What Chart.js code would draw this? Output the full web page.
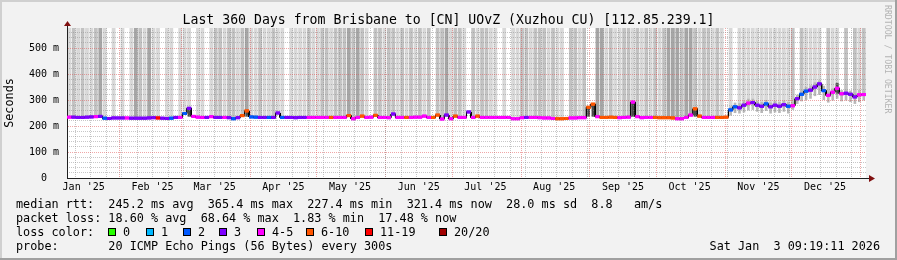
<!DOCTYPE html>
<html><head><meta charset="utf-8">
<script src="https://cdn.jsdelivr.net/npm/chart.js@4/dist/chart.umd.min.js"></script>
<style>html,body{margin:0;padding:0;background:#f2f2f2;}canvas{display:block;}</style>
</head><body>
<canvas id="c" width="897" height="260"></canvas>
<script>
// ---------- data (2-day bins, 180 bins = 360 days) ----------
const monthLabels = ["Jan '25","Feb '25","Mar '25","Apr '25","May '25","Jun '25","Jul '25","Aug '25","Sep '25","Oct '25","Nov '25","Dec '25"];
const yTickValues = [0,100,200,300,400,500];
const yTickLabels = ['0  ','100 m','200 m','300 m','400 m','500 m'];

// median rtt per bin (ms)
const median = [
 234,234,233,233,234,235,236,237,230,229,231,231,
 231,231,230,230,230,230,231,232,231,230,229,230,233,233,
 248,268,237,234,233,233,236,233,233,233,232,228,232,240,258,235,
 234,233,233,233,233,250,233,233,233,232,233,233,233,233,233,
 233,233,233,233,233,233,240,228,233,238,233,234,241,233,233,232,246,233,233,233,233,234,
 234,238,233,233,242,227,242,228,238,233,233,254,233,238,233,233,233,233,233,233,233,228,228,232,233,233,233,
 232,231,231,229,228,228,229,231,231,232,232,272,284,236,233,233,234,233,232,233,234,292,236,232,233,233,233,
 232,232,232,231,228,228,233,242,266,238,233,233,233,233,233,234,
 262,274,270,280,288,290,280,276,285,274,280,276,282,276,278,305,322,334,338,350,362,336,318,330,345,324,326,322,312,320,321
];
// loss colour index per bin (0..7 -> legend entries)
const lossIdx = [
 4,3,3,3,3,3,4,3,2,3,3,3,
 3,4,3,3,3,3,3,3,6,3,3,2,3,4,
 2,3,4,4,4,3,4,3,3,4,3,2,3,5,5,2,
 2,3,3,2,3,3,2,3,3,3,3,3,4,4,4,
 4,4,5,4,4,4,5,4,4,5,4,4,5,4,4,4,3,4,4,5,4,4,
 4,4,4,5,5,4,3,4,5,4,4,3,4,5,4,4,4,4,4,4,4,4,4,4,3,4,4,
 4,4,4,4,5,5,5,4,4,4,4,5,5,4,5,5,5,5,4,4,4,4,4,4,4,4,5,
 5,5,5,5,4,4,4,4,5,5,4,4,4,5,5,5,
 2,2,3,3,4,3,3,3,2,3,3,3,3,2,4,3,2,2,3,3,3,2,4,4,4,4,3,3,3,4,4
];
// smoke reaching the top of the graph: 0 none, 1 light, 2 medium, 3 dark
const smokeShade = [
 1,2,1,2,1,1,2,3,1,0,1,0,
 1,0,1,3,2,1,3,1,1,0,1,1,0,1,
 1,1,0,1,1,0,1,2,2,1,2,2,1,2,3,1,
 1,2,1,1,2,1,1,0,1,1,1,1,2,1,1,
 2,2,1,2,2,2,3,2,3,2,1,0,2,2,1,2,2,1,2,1,2,1,
 2,1,2,0,2,2,3,1,2,2,1,0,2,1,2,2,1,1,0,1,0,1,1,2,2,1,2,
 2,2,1,2,1,1,0,2,2,1,2,0,0,3,3,1,2,1,1,2,2,1,2,1,2,1,2,
 1,2,3,3,3,2,3,3,2,1,2,2,1,2,1,0,
 1,0,1,1,1,1,1,1,1,1,1,1,1,1,2,0,2,1,1,1,1,0,2,1,1,0,2,0,2,1,2
];
// smoke spread around the median from bin 149 (Nov) onward
const lateStartBin = 149;
const lateSmokeLo = [240,250,248,252,260,262,255,250,258,248,252,250,255,248,262,285,295,300,305,315,320,300,290,298,305,295,298,292,285,292,298];
const lateSmokeHi = [275,290,288,296,305,305,296,292,300,290,296,292,298,292,292,320,338,350,356,368,375,355,332,345,368,338,340,336,328,338,335];
// dense dark smoke under spikes
const denseBins = [27,40,117,118,127,141,173];
const denseLo   = [236,236,236,236,236,236,325];
const denseHi   = [268,258,275,286,292,266,365];

const lossColors = ['#26ff00','#00b8ff','#0059ff','#7e00ff','#ff00ff','#ff5500','#ff0000','#a10000'];
const lossLabels = ['0','1','2','3','4-5','6-10','11-19','20/20'];
const shadeColors = [null,'#d8d8d8','#c2c2c2','#a6a6a6'];

const titleText = 'Last 360 Days from Brisbane to [CN] UOvZ (Xuzhou CU) [112.85.239.1]';
const statRows = [
 'median rtt:  245.2 ms avg  365.4 ms max  227.4 ms min  321.4 ms now  28.0 ms sd  8.8   am/s',
 'packet loss: 18.60 % avg  68.64 % max  1.83 % min  17.48 % now',
 'loss color:',
 'probe:       20 ICMP Echo Pings (56 Bytes) every 300s'
];
const dateText = 'Sat Jan  3 09:19:11 2026';
const watermark = 'RRDTOOL / TOBI OETIKER';

// ---------- layout / styles ----------
const W = 897, H = 260;
const FONT = '"DejaVu Sans Mono", monospace';
const T0 = Date.UTC(2025,0,8,9,19,11);
const toDay = (y,m,d) => (Date.UTC(y,m,d) - T0) / 864e5;
const monthLabelDays = monthLabels.map((_, m) => toDay(2025, m, 1) + 14.9);
const monthGridDays = []; for (let m = 1; m <= 12; m++) monthGridDays.push(toDay(2025, m, 1));
const weekGridDays = []; for (let d = toDay(2025,0,12); d < 360; d += 7) weekGridDays.push(d);
const yMinorTicks = []; for (let v = 20; v < 577; v += 20) if (v % 100) yMinorTicks.push(v);
const MGRID = 'rgba(224,80,80,0.5)', GRID = 'rgba(144,144,144,0.5)';

const burstData = [], stepPts = [];
median.forEach((m, i) => {
  if (smokeShade[i]) burstData.push({x: 2*i+1, y: [m, 600], s: smokeShade[i]});
  stepPts.push({x: 2*i, y: m}, {x: 2*i+2, y: m});
});
const lateData = lateSmokeLo.map((lo, k) => ({x: 2*(lateStartBin+k)+1, y: [lo, lateSmokeHi[k]]}));
const denseData = denseBins.map((b, k) => ({x: 2*b+1, y: [denseLo[k], denseHi[k]]}));

const gridScale = (ticks, color, pos) => ({
  type: 'linear', position: pos, min: 0, max: pos === 'left' ? 577 : 360, offset: false,
  afterBuildTicks: s => { s.ticks = ticks.map(v => ({value: v})); },
  afterFit: s => { if (pos === 'left') s.width = 0; else s.height = 0; },
  grid: {display: true, color, lineWidth: 1, drawTicks: false, z: 1, offset: false},
  border: {display: false, dash: [1,1]},
  ticks: {display: false}
});

const deco = {
  id: 'deco',
  beforeDraw(chart) {
    const {ctx, chartArea: a} = chart;
    ctx.save();
    ctx.fillStyle = '#f2f2f2'; ctx.fillRect(0, 0, W, H);
    ctx.fillStyle = '#d0d0d0'; ctx.fillRect(0, 0, W, 2); ctx.fillRect(0, 0, 2, H);
    ctx.fillStyle = '#a0a0a0'; ctx.fillRect(0, H-2, W, 2); ctx.fillRect(W-2, 0, 2, H);
    ctx.fillStyle = '#ffffff'; ctx.fillRect(a.left, a.top, a.right - a.left, a.bottom - a.top);
    ctx.restore();
  },
  afterDraw(chart) {
    const {ctx, chartArea: a} = chart;
    // redraw median lines above the grid
    ctx.save();
    ctx.beginPath(); ctx.rect(a.left, a.top, a.right - a.left, a.bottom - a.top); ctx.clip();
    chart.getDatasetMeta(3).controller.draw();
    chart.getDatasetMeta(4).controller.draw();
    ctx.restore();
    ctx.save();
    // axis extensions + arrows
    ctx.strokeStyle = '#202020'; ctx.lineWidth = 1;
    ctx.beginPath(); ctx.moveTo(a.left + 0.5, a.top); ctx.lineTo(a.left + 0.5, a.top - 4); ctx.stroke();
    ctx.beginPath(); ctx.moveTo(a.right, a.bottom + 0.5); ctx.lineTo(a.right + 4, a.bottom + 0.5); ctx.stroke();
    ctx.fillStyle = '#801010';
    ctx.beginPath(); ctx.moveTo(a.left - 3, a.top - 2); ctx.lineTo(a.left + 4, a.top - 2); ctx.lineTo(a.left + 0.5, a.top - 7); ctx.closePath(); ctx.fill();
    ctx.beginPath(); ctx.moveTo(a.right + 3, a.bottom - 3); ctx.lineTo(a.right + 3, a.bottom + 4); ctx.lineTo(a.right + 9, a.bottom + 0.5); ctx.closePath(); ctx.fill();
    // title
    ctx.fillStyle = '#000'; ctx.textBaseline = 'alphabetic';
    ctx.font = '13.2px ' + FONT; ctx.textAlign = 'center';
    ctx.fillText(titleText, W / 2, 24);
    // legend rows
    ctx.font = '11.8px ' + FONT; ctx.textAlign = 'left';
    const rowY = [207.5, 221.8, 236, 250.2];
    statRows.forEach((t, i) => ctx.fillText(t, 16, rowY[i]));
    const boxX = [108, 146, 183, 219, 257, 306, 365, 439];
    lossLabels.forEach((lab, k) => {
      ctx.fillStyle = lossColors[k]; ctx.fillRect(boxX[k], 228, 8, 8);
      ctx.strokeStyle = '#000'; ctx.strokeRect(boxX[k] + 0.5, 228.5, 7, 7);
      ctx.fillStyle = '#000'; ctx.fillText(lab, boxX[k] + 15, rowY[2]);
    });
    ctx.textAlign = 'right';
    ctx.fillText(dateText, 880, rowY[3]);
    // watermark
    ctx.translate(887, 5); ctx.rotate(Math.PI / 2);
    ctx.font = '8.2px ' + FONT; ctx.fillStyle = '#b4b4b4'; ctx.textAlign = 'left'; ctx.textBaseline = 'middle';
    ctx.fillText(watermark, 0, 0);
    ctx.restore();
  }
};

new Chart(document.getElementById('c'), {
  data: {
    datasets: [
      {type: 'bar', data: burstData, grouped: false, order: 5, borderWidth: 0,
       categoryPercentage: 1, barPercentage: 0.85,
       backgroundColor: c => shadeColors[c.raw ? c.raw.s : 1]},
      {type: 'bar', data: lateData, grouped: false, order: 4, borderWidth: 0,
       categoryPercentage: 1, barPercentage: 0.6, backgroundColor: '#b8b8b8'},
      {type: 'bar', data: denseData, grouped: false, order: 3, borderWidth: 0,
       categoryPercentage: 1, barPercentage: 0.65, backgroundColor: '#4a4a4a'},
      {type: 'line', data: stepPts, order: 2, borderColor: '#000', borderWidth: 1,
       pointRadius: 0, tension: 0, fill: false},
      {type: 'line', data: stepPts, order: 1, borderWidth: 3, pointRadius: 0, tension: 0, fill: false,
       borderCapStyle: 'butt', borderColor: '#7e00ff',
       segment: {borderColor: c => (c.p0DataIndex % 2 === 0) ? lossColors[lossIdx[c.p0DataIndex / 2]] : 'rgba(0,0,0,0)'}}
    ]
  },
  options: {
    responsive: false, animation: false, devicePixelRatio: 1,
    layout: {padding: {left: 0, right: 31, top: 28, bottom: 0}},
    plugins: {legend: {display: false}, tooltip: {enabled: false}, title: {display: false}},
    events: [],
    scales: {
      x: {type: 'linear', position: 'bottom', min: 0, max: 360, offset: false,
          afterBuildTicks: s => { s.ticks = monthLabelDays.map(v => ({value: v})); },
          afterFit: s => { s.height = 82; },
          grid: {display: false, drawTicks: false, offset: false},
          border: {display: true, color: '#202020', width: 1, z: 2},
          ticks: {autoSkip: false, maxRotation: 0, minRotation: 0, padding: 3, color: '#000',
                  font: {family: FONT, size: 10}, callback: (v, i) => monthLabels[i]}},
      xMonth: gridScale(monthGridDays, MGRID, 'bottom'),
      xWeek: gridScale(weekGridDays, GRID, 'bottom'),
      y: {type: 'linear', position: 'left', min: 0, max: 577,
          afterBuildTicks: s => { s.ticks = yTickValues.map(v => ({value: v})); },
          afterFit: s => { s.width = 67; },
          grid: {display: true, color: MGRID, drawTicks: false, z: 1},
          border: {display: true, color: '#202020', width: 1, dash: [1,1], z: 2},
          ticks: {padding: 8, color: '#000', font: {family: FONT, size: 10}, callback: (v, i) => yTickLabels[i]},
          title: {display: true, text: 'Seconds', color: '#000', font: {family: FONT, size: 11.8}, padding: {top: 3, bottom: 0}}},
      yMinor: gridScale(yMinorTicks, GRID, 'left')
    }
  },
  plugins: [deco]
});
</script>
</body></html>
